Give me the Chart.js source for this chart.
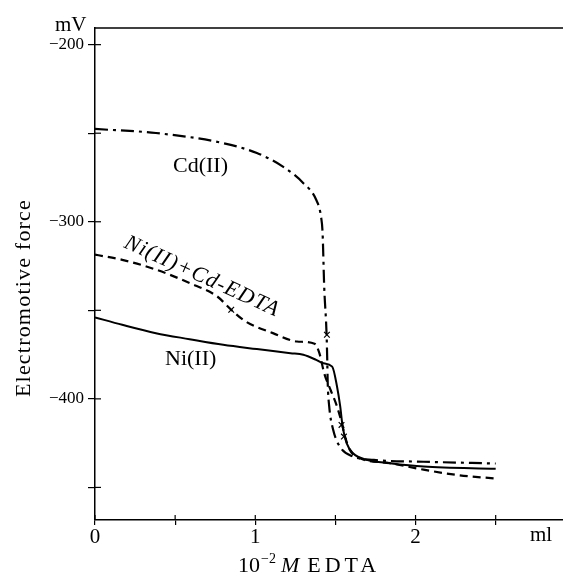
<!DOCTYPE html>
<html>
<head>
<meta charset="utf-8">
<script src="https://cdn.jsdelivr.net/npm/chart.js@4"></script>
<style>
  html, body { margin: 0; padding: 0; background: #fff; }
  #emfChart { display: block; }
</style>
</head>
<body>
<canvas id="emfChart" width="563" height="579"></canvas>
<script>
// Cd(II) alone (dash-dot)
const cdX = [0, 0.38, 0.80, 1.01, 1.17, 1.30, 1.38, 1.41, 1.42, 1.43, 1.445, 1.449, 1.452, 1.461, 1.486, 1.528, 1.611, 1.74, 2.05, 2.50];
const cdY = [-247.6, -249.9, -255.6, -261.2, -268.7, -278.2, -287.6, -297, -306.4, -336.5, -363.8, -378, -391, -404, -417.5, -427, -432.6, -434.5, -435.5, -436.5];

// Ni(II) + Cd-EDTA (dashed)
const ncX = [0, 0.17, 0.38, 0.59, 0.76, 0.85, 0.94, 1.11, 1.26, 1.37, 1.40, 1.43, 1.47, 1.51, 1.54, 1.56, 1.59, 1.63, 1.84, 2.05, 2.26, 2.50];
const ncY = [-318.6, -321.5, -327, -334.6, -342, -349.7, -356.3, -362.9, -367.6, -368.9, -374.2, -385.5, -395, -404.3, -413.7, -421.3, -428.8, -432.6, -436.3, -440, -443, -445];

// Ni(II) alone (solid)
const niX = [0, 0.17, 0.38, 0.59, 0.80, 1.01, 1.22, 1.30, 1.38, 1.42, 1.48, 1.51, 1.53, 1.545, 1.57, 1.61, 1.70, 1.84, 2.05, 2.50];
const niY = [-354, -358.2, -362.9, -366.3, -369.5, -371.9, -374.2, -375.1, -378, -379.8, -381.8, -393, -404.3, -415.6, -425, -430.7, -434.5, -436.3, -438.2, -439.5];

// x marks on the curves
const markX = [0.85, 1.447, 1.538, 1.553];
const markY = [-349.7, -363.8, -414.7, -421.3];

// ticks
const xTickValues = [0, 0.5, 1, 1.5, 2, 2.5];
const xTickLabels = ['0', '', '1', '', '2', ''];
const yTickValues = [-450, -400, -350, -300, -250, -200];
const yTickLabels = ['', '\u2212400', '', '\u2212300', '', '\u2212200'];

const toPts = (xs, ys) => xs.map((x, i) => ({ x: x, y: ys[i] }));

const serif = '"Liberation Serif", "DejaVu Serif", serif';

// frame top line, inner tick halves and all the loose texts
const decorations = {
  id: 'decorations',
  afterDraw(chart) {
    const { ctx, chartArea: a, scales } = chart;
    ctx.save();
    ctx.strokeStyle = '#000';
    ctx.lineWidth = 1.3;
    ctx.beginPath();
    ctx.moveTo(a.left, a.top);
    ctx.lineTo(a.right, a.top);
    ctx.stroke();

    // inside half of the ticks
    ctx.lineWidth = 1.2;
    scales.y.ticks.forEach(t => {
      const py = scales.y.getPixelForValue(t.value);
      ctx.beginPath();
      ctx.moveTo(a.left, py);
      ctx.lineTo(a.left + 6, py);
      ctx.stroke();
    });
    scales.x.ticks.forEach(t => {
      const px = scales.x.getPixelForValue(t.value);
      ctx.beginPath();
      ctx.moveTo(px, a.bottom);
      ctx.lineTo(px, a.bottom - 5);
      ctx.stroke();
    });

    ctx.fillStyle = '#000';
    ctx.textBaseline = 'alphabetic';
    ctx.textAlign = 'left';

    ctx.font = '21px ' + serif;
    ctx.fillText('mV', 55, 31);
    ctx.fillText('ml', 530, 541);

    // curve labels
    ctx.font = '22px ' + serif;
    ctx.fillText('Cd(II)', 173, 172);
    ctx.fillText('Ni(II)', 165, 365);

    ctx.save();
    ctx.translate(123, 247);
    ctx.rotate(24.5 * Math.PI / 180);
    ctx.font = 'italic 22px ' + serif;
    ctx.letterSpacing = '1.2px';
    ctx.fillText('Ni(II)+Cd-EDTA', 0, 0);
    ctx.restore();

    // y title
    ctx.save();
    ctx.translate(24, 298);
    ctx.rotate(-Math.PI / 2);
    ctx.textAlign = 'center';
    ctx.textBaseline = 'middle';
    ctx.font = '22px ' + serif;
    ctx.letterSpacing = '1.2px';
    ctx.fillText('Electromotive force', 0, 0);
    ctx.restore();

    // x title: 10^-2 M EDTA
    let x = 238;
    const base = 572;
    ctx.font = '22px ' + serif;
    ctx.fillText('10', x, base);
    x += ctx.measureText('10').width + 1;
    ctx.font = '14px ' + serif;
    ctx.fillText('\u22122', x, base - 9);
    x += ctx.measureText('\u22122').width + 5;
    ctx.font = 'italic 22px ' + serif;
    ctx.fillText('M', x, base);
    x += ctx.measureText('M').width + 8;
    ctx.font = '22px ' + serif;
    ctx.letterSpacing = '4px';
    ctx.fillText('EDTA', x, base);
    ctx.restore();
  }
};

const ctx = document.getElementById('emfChart').getContext('2d');

const emfChart = new Chart(ctx, {
  type: 'scatter',
  data: {
    datasets: [
      {
        label: 'Cd(II)',
        data: toPts(cdX, cdY),
        showLine: true,
        borderColor: '#000',
        borderWidth: 2.2,
        borderDash: [13, 5, 3, 5],
        pointRadius: 0,
        cubicInterpolationMode: 'monotone'
      },
      {
        label: 'Ni(II)+Cd-EDTA',
        data: toPts(ncX, ncY),
        showLine: true,
        borderColor: '#000',
        borderWidth: 2.2,
        borderDash: [8, 5],
        pointRadius: 0,
        cubicInterpolationMode: 'monotone'
      },
      {
        label: 'Ni(II)',
        data: toPts(niX, niY),
        showLine: true,
        borderColor: '#000',
        borderWidth: 2,
        pointRadius: 0,
        cubicInterpolationMode: 'monotone'
      },
      {
        label: 'marks',
        data: toPts(markX, markY),
        showLine: false,
        pointStyle: 'crossRot',
        pointRadius: 4,
        borderColor: '#000',
        borderWidth: 1.2
      }
    ]
  },
  options: {
    responsive: false,
    animation: false,
    devicePixelRatio: 1,
    layout: { autoPadding: false, padding: { top: 28, right: 0, left: 0, bottom: 0 } },
    plugins: {
      legend: { display: false },
      tooltip: { enabled: false }
    },
    scales: {
      x: {
        type: 'linear',
        min: 0,
        max: 2.92,
        afterBuildTicks: s => { s.ticks = xTickValues.map(v => ({ value: v })); },
        afterFit: s => { s.height = 59; },
        ticks: {
          callback: (v, i) => xTickLabels[i],
          color: '#000',
          font: { family: serif, size: 21 },
          padding: 0,
          maxRotation: 0,
          autoSkip: false
        },
        grid: {
          drawOnChartArea: false,
          drawTicks: true,
          tickLength: 5,
          color: '#000',
          lineWidth: 1.2
        },
        border: { color: '#000', width: 1.5 }
      },
      y: {
        type: 'linear',
        min: -468.4,
        max: -190.6,
        afterBuildTicks: s => { s.ticks = yTickValues.map(v => ({ value: v })); },
        afterFit: s => { s.width = 95; },
        ticks: {
          callback: (v, i) => yTickLabels[i],
          color: '#000',
          font: { family: serif, size: 17 },
          padding: 4,
          autoSkip: false
        },
        grid: {
          drawOnChartArea: false,
          drawTicks: true,
          tickLength: 7,
          color: '#000',
          lineWidth: 1.2
        },
        border: { color: '#000', width: 1.5 }
      }
    }
  },
  plugins: [decorations]
});
</script>
</body>
</html>
